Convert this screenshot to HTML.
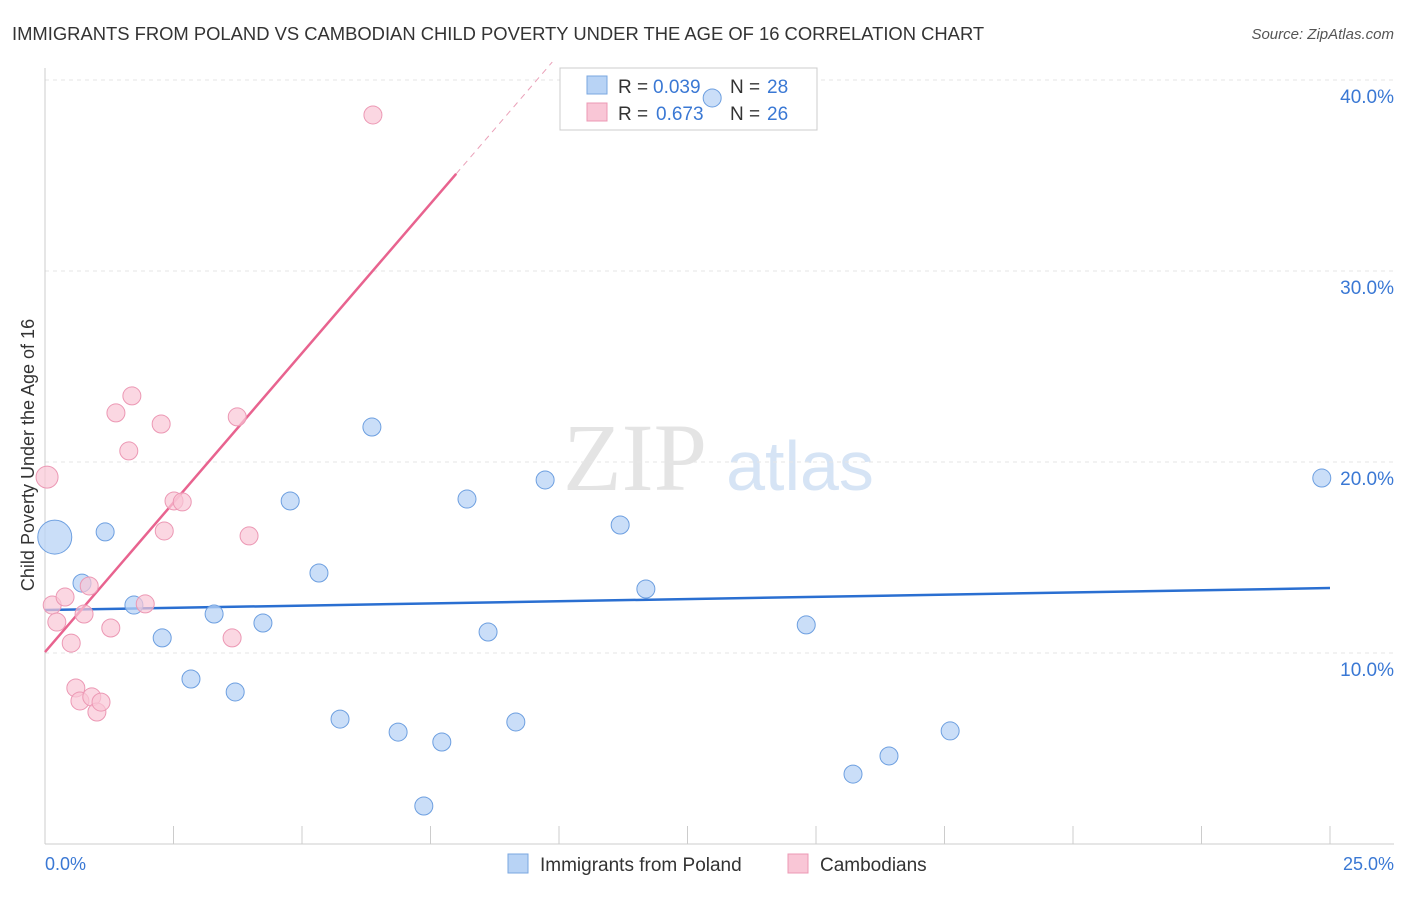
<!DOCTYPE html>
<html><head><meta charset="utf-8"><style>
body{margin:0;background:#fff;font-family:"Liberation Sans",sans-serif;}
</style></head><body>
<svg width="1406" height="892" xmlns="http://www.w3.org/2000/svg">
<text x="12" y="40" font-size="18.4" fill="#333">IMMIGRANTS FROM POLAND VS CAMBODIAN CHILD POVERTY UNDER THE AGE OF 16 CORRELATION CHART</text>
<text x="1394" y="39" font-size="15" fill="#555" text-anchor="end" font-style="italic">Source: ZipAtlas.com</text>
<text x="635" y="490" font-size="96" fill="#e4e4e4" text-anchor="middle" font-family="Liberation Serif">ZIP</text>
<text x="800" y="490" font-size="70" fill="#d6e4f5" text-anchor="middle">atlas</text>
<g id="grid"></g><g id="axes"></g><g id="lines"></g>
<g>
<rect x="560" y="68" width="257" height="62" fill="#fff" stroke="#ccc"/>
<rect x="587" y="76" width="20" height="18" fill="#b8d3f5" stroke="#7aa7e0"/>
<rect x="587" y="103" width="20" height="18" fill="#f9c6d6" stroke="#ec98b4"/>
<text x="618" y="93" font-size="19" fill="#333">R =</text>
<text x="653" y="93" font-size="19" fill="#3a78d4">0.039</text>
<text x="730" y="93" font-size="19" fill="#333">N =</text>
<text x="767" y="93" font-size="19" fill="#3a78d4">28</text>
<text x="618" y="120" font-size="19" fill="#333">R =</text>
<text x="656" y="120" font-size="19" fill="#3a78d4">0.673</text>
<text x="730" y="120" font-size="19" fill="#333">N =</text>
<text x="767" y="120" font-size="19" fill="#3a78d4">26</text>
</g>
<g id="pts"></g>
<text transform="translate(34,455) rotate(-90)" font-size="18" fill="#333" text-anchor="middle">Child Poverty Under the Age of 16</text>
<text x="45" y="870" font-size="18" fill="#3a78d4">0.0%</text>
<text x="1394" y="870" font-size="18" fill="#3a78d4" text-anchor="end">25.0%</text>
<g>
<rect x="508" y="854" width="20" height="19" fill="#b8d3f5" stroke="#7aa7e0"/>
<text x="540" y="871" font-size="19" fill="#333">Immigrants from Poland</text>
<rect x="788" y="854" width="20" height="19" fill="#f9c6d6" stroke="#ec98b4"/>
<text x="820" y="871" font-size="19" fill="#333">Cambodians</text>
</g>
</svg>
<script>
const yTicks=[10,20,30,40];
const xTicks=[0,2.5,5,7.5,10,12.5,15,17.5,20,22.5,25];
const blueX=[0.19,1.17,0.72,1.73,2.28,2.84,3.29,3.70,4.24,4.77,5.33,5.74,6.36,6.87,7.37,7.72,8.21,8.62,9.16,9.73,11.19,11.69,12.98,14.81,15.72,16.42,17.61,24.84];
const blueY=[16.07,16.34,13.66,12.51,10.79,8.64,12.04,7.96,11.57,17.96,14.19,6.54,21.83,5.86,1.99,5.34,18.06,11.10,6.39,19.06,16.70,13.35,39.06,11.47,3.66,4.61,5.92,19.16];
const blueR=[17,9,9,9,9,9,9,9,9,9,9,9,9,9,9,9,9,9,9,9,9,9,9,9,9,9,9,9];
const pinkX=[6.38,0.04,0.14,0.23,0.39,0.51,0.60,0.68,0.76,0.86,0.91,1.01,1.09,1.28,1.38,1.63,1.69,1.95,2.26,2.32,2.51,2.67,3.74,3.64,3.97];
const pinkY=[38.17,19.21,12.51,11.62,12.93,10.52,8.17,7.49,12.04,13.51,7.70,6.91,7.43,11.31,22.57,20.58,23.46,12.57,21.99,16.39,17.96,17.91,22.36,10.79,16.13];
const pinkR=[9,11,9,9,9,9,9,9,9,9,9,9,9,9,9,9,9,9,9,9,9,9,9,9,9];
const blueTrend=[12.25,13.4];
const pinkTrend=[10.05,3.13];
const sx=v=>45+v*51.4, sy=v=>844-v*19.1;
const NS="http://www.w3.org/2000/svg";
function mk(t,a,p){const e=document.createElementNS(NS,t);for(const k in a)e.setAttribute(k,a[k]);document.getElementById(p).appendChild(e);return e;}
yTicks.forEach(v=>{
 const l=mk('line',{x1:45,x2:1394,y1:sy(v),y2:sy(v),stroke:'#e6e6e6','stroke-dasharray':'4,4'},'grid');
 
 
 const t=mk('text',{x:1394,y:sy(v)+23,'font-size':19,fill:'#3a78d4','text-anchor':'end'},'grid');
 t.textContent=v.toFixed(1)+'%';
 
 
});
const ax=mk('line',{x1:45,x2:1394,y1:844,y2:844,stroke:'#ccc'},'axes');


const ay=mk('line',{x1:45,x2:45,y1:68,y2:844,stroke:'#ccc'},'axes');


xTicks.forEach(v=>{
 const t=mk('line',{x1:sx(v),x2:sx(v),y1:826,y2:844,stroke:'#ccc'},'axes');
 
 
});
const bl=mk('line',{x1:sx(0),x2:sx(25),y1:sy(blueTrend[0]),y2:sy(blueTrend[1]),stroke:'#2a6fd1','stroke-width':2.5},'lines');


const pEnd=8.0;
const pl=mk('line',{x1:sx(0),x2:sx(pEnd),y1:sy(pinkTrend[0]),y2:sy(pinkTrend[0]+pinkTrend[1]*pEnd),stroke:'#e8638f','stroke-width':2.5},'lines');


const xd=(40-pinkTrend[0])/pinkTrend[1]+0.3;
const pd=mk('line',{x1:sx(pEnd),x2:sx(xd),y1:sy(pinkTrend[0]+pinkTrend[1]*pEnd),y2:sy(pinkTrend[0]+pinkTrend[1]*xd),stroke:'#eaa0b8','stroke-width':1,'stroke-dasharray':'6,5'},'lines');


blueX.forEach((v,i)=>{
 const c=mk('circle',{cx:sx(v),cy:sy(blueY[i]),r:blueR[i],fill:'rgba(184,211,245,0.75)',stroke:'#6d9fe0','stroke-width':1},'pts');
 
 
});
pinkX.forEach((v,i)=>{
 const c=mk('circle',{cx:sx(v),cy:sy(pinkY[i]),r:pinkR[i],fill:'rgba(249,198,214,0.7)',stroke:'#ec98b4','stroke-width':1},'pts');
 
 
});
</script>
</body></html>
